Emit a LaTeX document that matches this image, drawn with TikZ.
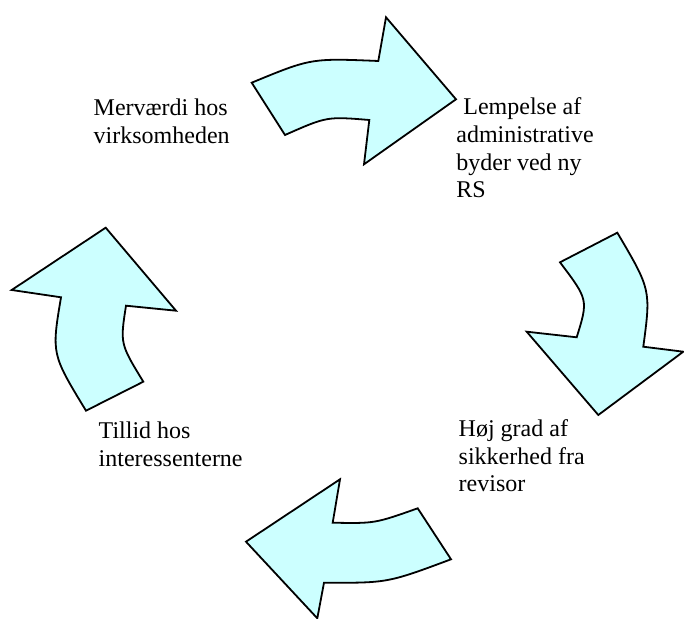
\documentclass[tikz,border=0pt]{standalone}
\usepackage{fontspec}
\setmainfont{Liberation Serif}
\begin{document}
\begin{tikzpicture}[x=0.5pt,y=-0.5pt,
  cyclearrow/.style={draw=black,fill=arrowfill,line width=0.9pt,line join=miter},
  label/.style={anchor=base west,inner sep=0pt,align=left,
    font=\fontsize{12}{13.8}\selectfont}]
  \definecolor{arrowfill}{HTML}{CCFFFF}
  \useasboundingbox (0,0) rectangle (684,619);

  % top arrow, pointing right
  \draw[cyclearrow] (251.7,82.7) .. controls (311,58.2) .. (378.3,61)
    -- (386,17.3) -- (456,99.3) -- (364,164.3) -- (369.3,120)
    .. controls (326.8,116.5) .. (285,135) -- cycle;

  % right arrow, pointing down
  \draw[cyclearrow] (560,262.3) .. controls (588.3,299.8) .. (576.7,337.3)
    -- (526.7,331.7) -- (598.3,415) -- (683.3,351.7) -- (643.3,346.7)
    .. controls (650.9,289.7) .. (617.3,232.7) -- cycle;

  % bottom arrow, pointing left
  \draw[cyclearrow] (417.7,508.3) .. controls (374.8,523.5) .. (332.7,522.7)
    -- (340,479.3) -- (246,541.7) -- (317.3,618.3) -- (324,582.7)
    .. controls (387.5,583) .. (451,559.3) -- cycle;

  % left arrow, pointing up
  \draw[cyclearrow] (86,410.7) .. controls (51.5,354) .. (61,297.3)
    -- (11.7,290) -- (105.7,227.7) -- (176,310.7) -- (126,305.7)
    .. controls (120.1,343.7) .. (143.3,381.7) -- cycle;

  % labels (anchored at the baseline of their last line)
  \node[label] (merv) at (93.3,143.3) {Merværdi hos\\virksomheden};
  \node[label] (lemp) at (456,197.8) {\hspace*{3.5pt}Lempelse af\\administrative\\byder ved ny\\RS};
  \node[label] (hoej) at (458.3,491.9) {Høj grad af\\sikkerhed fra\\revisor};
  \node[label] (till) at (98.3,466) {Tillid hos\\interessenterne};
\end{tikzpicture}
\end{document}
